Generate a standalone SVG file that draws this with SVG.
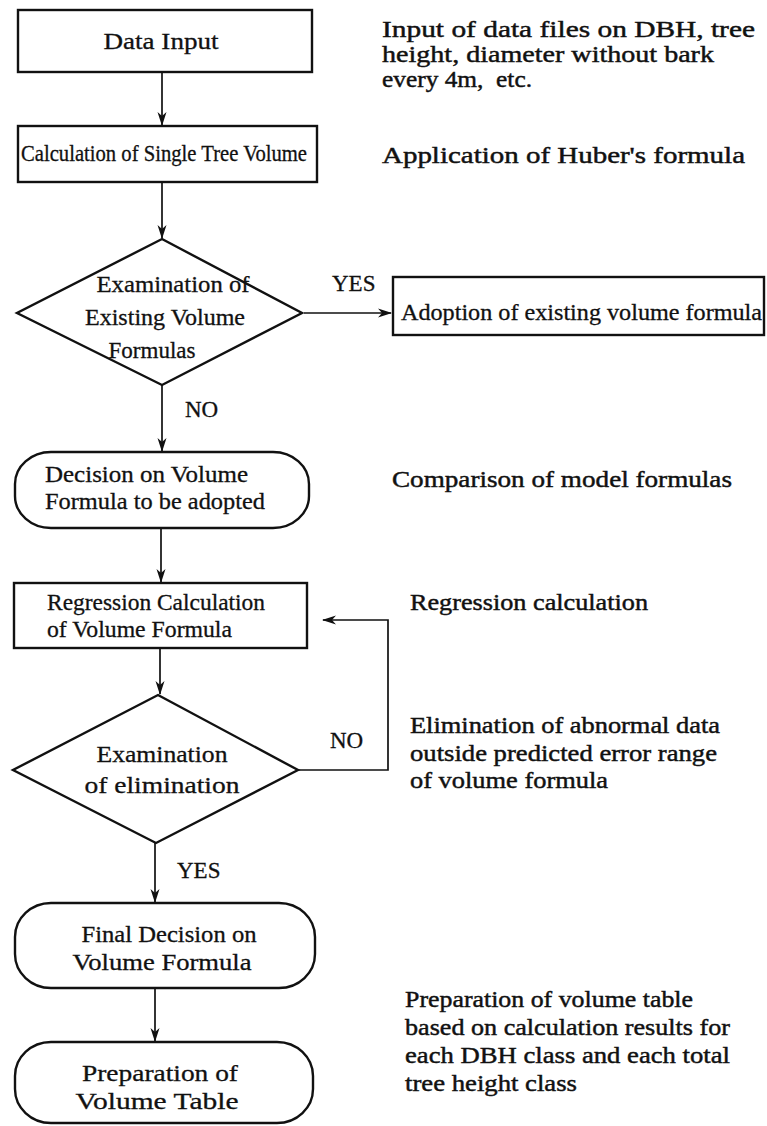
<svg xmlns="http://www.w3.org/2000/svg" width="767" height="1126" viewBox="0 0 767 1126">
  <style>
    .box { fill: #fff; stroke: #111; stroke-width: 2.4; }
    .edge { fill: none; stroke: #111; stroke-width: 1.7; }
    .t { font-family: "Liberation Serif", "Times New Roman", serif; font-size: 23px; fill: #111; stroke: #111; stroke-width: 0.3; }
    .c { text-anchor: middle; }
    .note { font-family: "Liberation Serif", "Times New Roman", serif; font-size: 23px; fill: #111; stroke: #111; stroke-width: 0.45; }
    .lbl { font-family: "Liberation Serif", "Times New Roman", serif; font-size: 23px; fill: #111; stroke: #111; stroke-width: 0.3; }
  </style>
  <defs>
    <marker id="arrow" viewBox="0 0 14 10" refX="13" refY="5" markerWidth="14" markerHeight="10" markerUnits="userSpaceOnUse" orient="auto">
      <path d="M0,0.5 L14,5 L0,9.5 L4,5 z" fill="#111"/>
    </marker>
  </defs>

  <rect width="767" height="1126" fill="#fff"/>

  <!-- connectors -->
  <g id="connectors">
    <path class="edge" d="M162,72 V125" marker-end="url(#arrow)"/>
    <path class="edge" d="M162,182 V238" marker-end="url(#arrow)"/>
    <path class="edge" d="M304,313 H391" marker-end="url(#arrow)"/>
    <path class="edge" d="M162,385 V451" marker-end="url(#arrow)"/>
    <path class="edge" d="M161,528 V582" marker-end="url(#arrow)"/>
    <path class="edge" d="M160,648 V694" marker-end="url(#arrow)"/>
    <path class="edge" d="M298,770 H388 V620 H323" marker-end="url(#arrow)"/>
    <path class="edge" d="M155,843 V902" marker-end="url(#arrow)"/>
    <path class="edge" d="M155,988 V1041" marker-end="url(#arrow)"/>
  </g>

  <!-- connector labels -->
  <g id="edge-labels">
    <text class="lbl" x="332" y="291">YES</text>
    <text class="lbl" x="185" y="417">NO</text>
    <text class="lbl" x="330" y="748">NO</text>
    <text class="lbl" x="177" y="878">YES</text>
  </g>

  <!-- flow nodes -->
  <g id="data-input">
    <rect class="box" x="18" y="10" width="294" height="62"/>
    <text class="t c" x="161" y="49" textLength="115" lengthAdjust="spacingAndGlyphs">Data Input</text>
  </g>

  <g id="single-tree-volume">
    <rect class="box" x="18" y="126" width="299" height="56"/>
    <text class="t c" x="164" y="161" font-size="18" textLength="286" lengthAdjust="spacingAndGlyphs">Calculation of Single Tree Volume</text>
  </g>

  <g id="existing-formulas">
    <polygon class="box" points="162,239 302,313 162,385 17,313"/>
    <text class="t c" x="173" y="292" textLength="153" lengthAdjust="spacingAndGlyphs">Examination of</text>
    <text class="t c" x="165" y="325" textLength="160" lengthAdjust="spacingAndGlyphs">Existing Volume</text>
    <text class="t c" x="152" y="358" textLength="87" lengthAdjust="spacingAndGlyphs">Formulas</text>
  </g>

  <g id="adopt-existing">
    <rect class="box" x="393" y="277" width="371" height="58"/>
    <text class="t" x="401" y="320" textLength="361" lengthAdjust="spacingAndGlyphs">Adoption of existing volume formula</text>
  </g>

  <g id="decide-formula">
    <rect class="box" x="15" y="452" width="294" height="76" rx="36" ry="32"/>
    <text class="t" x="45" y="482" textLength="203" lengthAdjust="spacingAndGlyphs">Decision on Volume</text>
    <text class="t" x="45" y="509" textLength="220" lengthAdjust="spacingAndGlyphs">Formula to be adopted</text>
  </g>

  <g id="regression">
    <rect class="box" x="14" y="583" width="293" height="65"/>
    <text class="t" x="47" y="610" textLength="218" lengthAdjust="spacingAndGlyphs">Regression Calculation</text>
    <text class="t" x="47" y="637" textLength="185" lengthAdjust="spacingAndGlyphs">of Volume Formula</text>
  </g>

  <g id="examine-elimination">
    <polygon class="box" points="158,695 298,770 156,843 13,770"/>
    <text class="t c" x="162" y="762" textLength="131" lengthAdjust="spacingAndGlyphs">Examination</text>
    <text class="t c" x="162" y="793" textLength="155" lengthAdjust="spacingAndGlyphs">of elimination</text>
  </g>

  <g id="final-decision">
    <rect class="box" x="15" y="903" width="300" height="85" rx="36" ry="34"/>
    <text class="t c" x="169" y="942" textLength="175" lengthAdjust="spacingAndGlyphs">Final Decision on</text>
    <text class="t c" x="162" y="970" textLength="179" lengthAdjust="spacingAndGlyphs">Volume Formula</text>
  </g>

  <g id="volume-table">
    <rect class="box" x="15" y="1042" width="298" height="81" rx="36" ry="34"/>
    <text class="t c" x="160" y="1081" textLength="156" lengthAdjust="spacingAndGlyphs">Preparation of</text>
    <text class="t c" x="157" y="1109" textLength="163" lengthAdjust="spacingAndGlyphs">Volume Table</text>
  </g>

  <!-- explanatory notes -->
  <g id="notes">
    <text class="note" x="382" y="37" textLength="373" lengthAdjust="spacingAndGlyphs">Input of data files on DBH, tree</text>
    <text class="note" x="382" y="62" textLength="332" lengthAdjust="spacingAndGlyphs">height, diameter without bark</text>
    <text class="note" x="382" y="87" textLength="150" lengthAdjust="spacingAndGlyphs">every 4m,&#160; etc.</text>
    <text class="note" x="382" y="163" textLength="363" lengthAdjust="spacingAndGlyphs">Application of Huber's formula</text>
    <text class="note" x="392" y="487" textLength="340" lengthAdjust="spacingAndGlyphs">Comparison of model formulas</text>
    <text class="note" x="410" y="610" textLength="238" lengthAdjust="spacingAndGlyphs">Regression calculation</text>
    <text class="note" x="410" y="733" textLength="310" lengthAdjust="spacingAndGlyphs">Elimination of abnormal data</text>
    <text class="note" x="410" y="761" textLength="307" lengthAdjust="spacingAndGlyphs">outside predicted error range</text>
    <text class="note" x="410" y="788" textLength="198" lengthAdjust="spacingAndGlyphs">of volume formula</text>
    <text class="note" x="405" y="1007" textLength="288" lengthAdjust="spacingAndGlyphs">Preparation of volume table</text>
    <text class="note" x="405" y="1035" textLength="325" lengthAdjust="spacingAndGlyphs">based on calculation results for</text>
    <text class="note" x="405" y="1063" textLength="325" lengthAdjust="spacingAndGlyphs">each DBH class and each total</text>
    <text class="note" x="405" y="1091" textLength="172" lengthAdjust="spacingAndGlyphs">tree height class</text>
  </g>
</svg>
